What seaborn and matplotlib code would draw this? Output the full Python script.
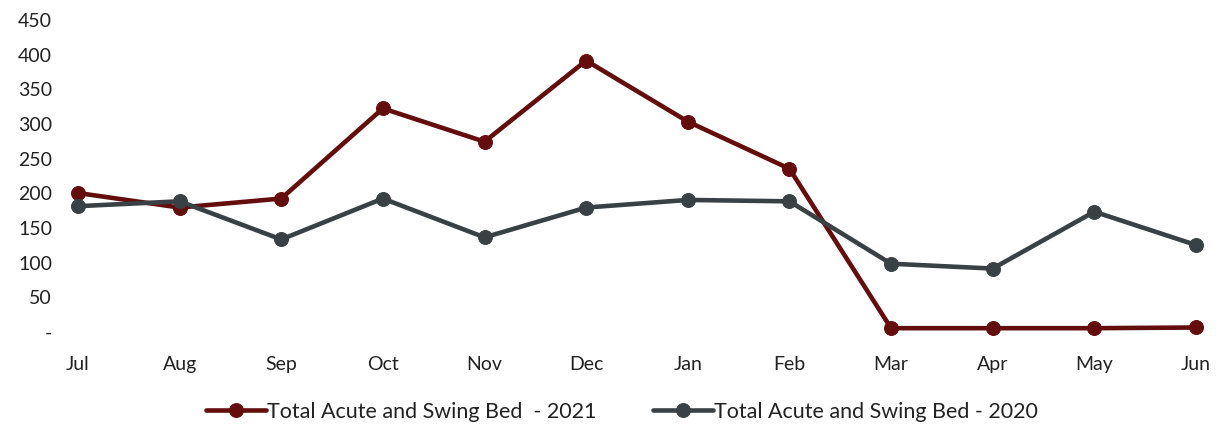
import matplotlib
matplotlib.use("Agg")
import matplotlib.pyplot as plt
import seaborn as sns
import pandas as pd

months = ["Jul", "Aug", "Sep", "Oct", "Nov", "Dec", "Jan", "Feb", "Mar", "Apr", "May", "Jun"]
beds_2021 = [199, 178, 191, 321, 273, 390, 302, 234, 4, 4, 4, 5]
beds_2020 = [180, 187, 132, 191, 135, 178, 189, 187, 97, 90, 172, 124]
y_ticks = [0, 50, 100, 150, 200, 250, 300, 350, 400, 450]
y_tick_labels = ["-", "50", "100", "150", "200", "250", "300", "350", "400", "450"]
series_names = ["Total Acute and Swing Bed  - 2021", "Total Acute and Swing Bed - 2020"]
series_colors = ["#640d0d", "#3a4145"]

sns.set_theme(style="white")
plt.rcParams["font.family"] = ["Lato", "DejaVu Sans"]

df = pd.DataFrame({
    "month": months * 2,
    "pos": list(range(len(months))) * 2,
    "value": beds_2021 + beds_2020,
    "series": [series_names[0]] * len(months) + [series_names[1]] * len(months),
})

fig = plt.figure(figsize=(12.24, 4.31), dpi=100)
ax = fig.add_axes([0.0471, 0.2137, 0.9466, 0.756])

for name, color in zip(series_names, series_colors):
    sub = df[df["series"] == name]
    sns.lineplot(data=sub, x="pos", y="value", ax=ax, color=color, marker="o",
                 markersize=10, linewidth=3.3, markeredgecolor=color,
                 label=name, clip_on=False)

ax.set_xlim(-0.2, 11.2)
ax.set_ylim(-10, 460)
ax.set_xticks(range(len(months)))
ax.set_xticklabels(months)
ax.set_yticks(y_ticks)
ax.set_yticklabels(y_tick_labels)
ax.set_xlabel("")
ax.set_ylabel("")
ax.tick_params(axis="both", length=0, labelsize=14, colors="#222222")
ax.tick_params(axis="x", pad=12)
ax.tick_params(axis="y", pad=4)
for s in ax.spines.values():
    s.set_visible(False)
ax.grid(False)

handles, labels = ax.get_legend_handles_labels()
ax.get_legend().remove()
fig.legend(handles, labels, loc="lower center", bbox_to_anchor=(0.508, -0.025), ncol=2,
           frameon=False, fontsize=15.5, handlelength=2.8, handletextpad=0.05,
           columnspacing=2.6, labelcolor="#222222")

fig.savefig("out.png", dpi=100, facecolor="white")
